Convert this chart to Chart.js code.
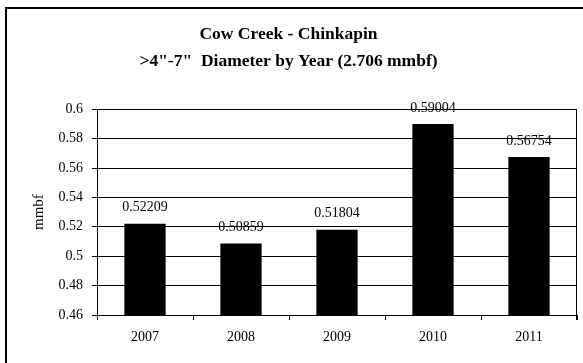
<!DOCTYPE html>
<html>
<head>
<meta charset="utf-8">
<script src="https://cdn.jsdelivr.net/npm/chart.js@4"></script>
<style>
  html, body { margin: 0; padding: 0; background: #fff; }
  #wrap { width: 583px; height: 363px; position: relative; overflow: hidden; }
</style>
</head>
<body>
<div id="wrap"><canvas id="grafico" width="583" height="363"></canvas></div>
<script>
const anos = ['2007', '2008', '2009', '2010', '2011'];
const volumes = [0.52209, 0.50859, 0.51804, 0.59004, 0.56754];
const rotulosY = ['0.46', '0.48', '0.5', '0.52', '0.54', '0.56', '0.58', '0.6'];
const tituloLinhas = ['Cow Creek - Chinkapin', '>4"-7"  Diameter by Year (2.706 mmbf)'];

const fonteSerif = '"Liberation Serif", "Times New Roman", serif';

// moldura externa + borda da área do gráfico
const molduraPlugin = {
    id: 'moldura',
    beforeDraw(chart) {
        const ctx = chart.ctx;
        ctx.save();
        ctx.fillStyle = '#fff';
        ctx.fillRect(0, 0, chart.width, chart.height);
        ctx.strokeStyle = '#000';
        ctx.lineWidth = 2;
        ctx.strokeRect(6, 8, 700, 500);
        ctx.restore();
    },
    afterDraw(chart) {
        const {ctx, chartArea: a} = chart;
        ctx.save();
        ctx.strokeStyle = '#000';
        ctx.lineWidth = 1;
        ctx.beginPath();
        ctx.moveTo(Math.round(a.left) + 0.5, Math.round(a.top) + 0.5);
        ctx.lineTo(Math.round(a.right) - 0.5, Math.round(a.top) + 0.5);
        ctx.lineTo(Math.round(a.right) - 0.5, Math.round(a.bottom) + 5);
        ctx.stroke();
        ctx.restore();
    }
};

// rótulos de valor acima das barras
const rotulosPlugin = {
    id: 'rotulos',
    afterDatasetsDraw(chart) {
        const ctx = chart.ctx;
        const meta = chart.getDatasetMeta(0);
        ctx.save();
        ctx.font = '14px ' + fonteSerif;
        ctx.fillStyle = '#000';
        ctx.textAlign = 'center';
        ctx.textBaseline = 'middle';
        meta.data.forEach((bar, i) => {
            ctx.fillText(String(volumes[i]), bar.x, bar.y - 16);
        });
        ctx.restore();
    }
};

new Chart('grafico', {
    type: 'bar',
    data: {
        labels: anos,
        datasets: [{
            data: volumes,
            backgroundColor: '#000',
            borderColor: '#000',
            borderWidth: 0,
            barPercentage: 0.43,
            categoryPercentage: 1
        }]
    },
    options: {
        responsive: false,
        animation: false,
        layout: { padding: { left: 0, right: 6, top: 0, bottom: 0 } },
        plugins: {
            legend: { display: false },
            tooltip: { enabled: false },
            title: {
                display: true,
                text: tituloLinhas,
                color: '#000',
                font: { family: fonteSerif, size: 17.5, weight: 'bold', lineHeight: 1.55 },
                padding: { top: 21, bottom: 34 }
            }
        },
        scales: {
            x: {
                offset: true,
                grid: { display: true, drawOnChartArea: false, offset: true, drawTicks: true, tickLength: 5, color: '#000' },
                border: { display: true, color: '#000', width: 1 },
                ticks: { color: '#000', padding: 9, font: { family: fonteSerif, size: 14 } },
                afterFit: (s) => { s.height = 48; }
            },
            y: {
                min: 0.46,
                max: 0.6,
                grid: { color: '#000', lineWidth: 1, tickLength: 5 },
                border: { display: true, color: '#000', width: 1 },
                ticks: {
                    stepSize: 0.02,
                    color: '#000',
                    padding: 9,
                    font: { family: fonteSerif, size: 14 },
                    callback: (v, i) => rotulosY[i]
                },
                title: {
                    display: true,
                    text: 'mmbf',
                    color: '#000',
                    font: { family: fonteSerif, size: 15 },
                    padding: { top: 30, bottom: 0 }
                },
                afterFit: (s) => { s.width = 97; }
            }
        }
    },
    plugins: [molduraPlugin, rotulosPlugin]
});
</script>
</body>
</html>
